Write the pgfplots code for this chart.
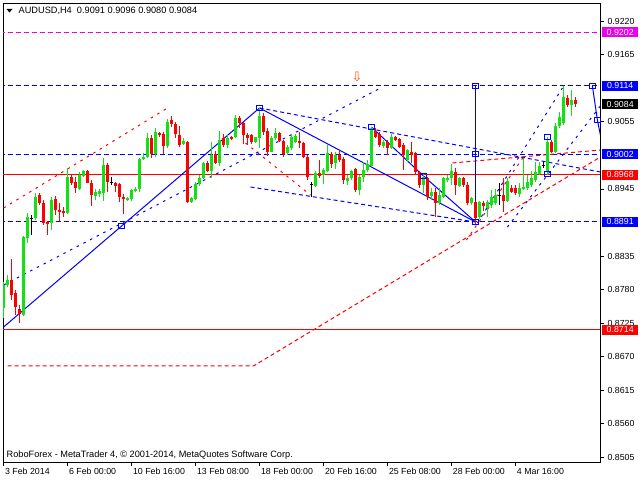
\documentclass[border=0pt]{standalone}
\usepackage{pgfplots}
\pgfplotsset{compat=1.18}
\usepackage{pgfplotstable}
\usepackage{fontspec}
\setmainfont{Liberation Sans}
\newfontfamily\djv{DejaVu Sans}
\definecolor{cgreen}{RGB}{20,225,20}
\definecolor{cred}{RGB}{255,0,0}
\definecolor{mtblue}{RGB}{0,0,255}
\definecolor{mtmag}{RGB}{235,0,235}
\definecolor{arrowc}{RGB}{255,80,30}

\pgfplotstableread{
i o h l c
0 0.8750 0.8792 0.8733 0.8788
1 0.8788 0.8804 0.8784 0.8796
5 0.8738 0.8868 0.8737 0.8866
6 0.8865 0.8906 0.8856 0.8899
8 0.8897 0.8938 0.8894 0.8932
12 0.8889 0.8932 0.8878 0.8927
16 0.8906 0.8979 0.8904 0.8965
19 0.8945 0.8973 0.8943 0.8968
20 0.8966 0.8976 0.8965 0.8974
23 0.8933 0.8945 0.8927 0.8940
24 0.8937 0.8945 0.8932 0.8942
25 0.8938 0.8996 0.8925 0.8984
31 0.8927 0.8932 0.8925 0.8930
32 0.8929 0.8945 0.8925 0.8943
33 0.8942 0.8948 0.8940 0.8945
34 0.8945 0.8996 0.8940 0.8994
35 0.8994 0.9004 0.8993 0.8997
36 0.8997 0.9037 0.8996 0.9029
38 0.9002 0.9045 0.8997 0.9038
41 0.9015 0.9060 0.9012 0.9055
45 0.9019 0.9029 0.9017 0.9024
47 0.8924 0.8932 0.8922 0.8930
48 0.8929 0.8956 0.8927 0.8953
49 0.8953 0.8968 0.8950 0.8963
50 0.8963 0.8989 0.8961 0.8988
52 0.8974 0.9022 0.8963 0.9001
54 0.8988 0.9040 0.8983 0.9025
56 0.9017 0.9034 0.9012 0.9029
58 0.9030 0.9066 0.9029 0.9061
63 0.9022 0.9031 0.9020 0.9030
64 0.9029 0.9078 0.9012 0.9065
67 0.9006 0.9032 0.9005 0.9029
68 0.9029 0.9045 0.9025 0.9037
71 0.9004 0.9017 0.9001 0.9014
72 0.9012 0.9035 0.9009 0.9030
73 0.9022 0.9035 0.9020 0.9032
78 0.8950 0.8974 0.8948 0.8971
80 0.8968 0.8979 0.8953 0.8976
81 0.8974 0.9019 0.8973 0.9004
83 0.8988 0.9006 0.8978 0.9001
86 0.8958 0.8968 0.8952 0.8963
87 0.8963 0.8976 0.8960 0.8974
89 0.8943 0.8968 0.8935 0.8965
90 0.8965 0.8989 0.8956 0.8976
91 0.8976 0.8993 0.8973 0.8986
92 0.8983 0.9047 0.8981 0.9045
95 0.9015 0.9025 0.9012 0.9022
97 0.9012 0.9035 0.9010 0.9030
101 0.8993 0.9010 0.8989 0.9009
105 0.8952 0.8970 0.8938 0.8965
107 0.8933 0.8947 0.8927 0.8940
109 0.8922 0.8947 0.8919 0.8935
110 0.8932 0.8965 0.8930 0.8963
111 0.8960 0.8968 0.8956 0.8963
112 0.8963 0.8986 0.8952 0.8974
114 0.8950 0.8965 0.8948 0.8963
117 0.8922 0.8932 0.8919 0.8930
119 0.8899 0.8925 0.8896 0.8924
121 0.8914 0.8927 0.8899 0.8924
122 0.8919 0.8943 0.8914 0.8932
123 0.8922 0.8945 0.8919 0.8935
126 0.8925 0.8963 0.8924 0.8958
129 0.8937 0.8955 0.8932 0.8947
130 0.8945 0.8996 0.8943 0.8948
131 0.8947 0.8968 0.8943 0.8956
132 0.8952 0.8974 0.8948 0.8963
133 0.8960 0.8989 0.8956 0.8973
134 0.8970 0.8989 0.8968 0.8983
136 0.8973 0.9030 0.8968 0.9022
138 0.9006 0.9053 0.9004 0.9048
139 0.9048 0.9071 0.9045 0.9063
140 0.9053 0.9114 0.9050 0.9096
142 0.9083 0.9107 0.9065 0.9091
}\upc

\pgfplotstableread{
i o h l c
2 0.8796 0.8830 0.8763 0.8771
3 0.8774 0.8779 0.8738 0.8751
4 0.8748 0.8755 0.8725 0.8740
9 0.8935 0.8938 0.8919 0.8922
10 0.8922 0.8927 0.8886 0.8889
11 0.8891 0.8892 0.8870 0.8889
13 0.8929 0.8933 0.8902 0.8911
14 0.8911 0.8922 0.8892 0.8907
15 0.8909 0.8915 0.8899 0.8906
17 0.8965 0.8970 0.8952 0.8955
18 0.8956 0.8965 0.8938 0.8947
21 0.8974 0.8976 0.8954 0.8955
22 0.8955 0.8960 0.8917 0.8935
26 0.8984 0.8988 0.8940 0.8956
28 0.8955 0.8956 0.8940 0.8950
29 0.8953 0.8955 0.8924 0.8932
30 0.8932 0.8937 0.8904 0.8929
37 0.9029 0.9034 0.8996 0.9002
39 0.9037 0.9038 0.9030 0.9034
40 0.9035 0.9038 0.9002 0.9015
42 0.9058 0.9065 0.9047 0.9052
43 0.9052 0.9055 0.9029 0.9035
44 0.9034 0.9048 0.9014 0.9017
46 0.9022 0.9024 0.8922 0.8924
51 0.8988 0.8991 0.8973 0.8974
53 0.9002 0.9007 0.8986 0.8988
55 0.9029 0.9035 0.9014 0.9017
57 0.9030 0.9032 0.9025 0.9027
59 0.9061 0.9065 0.9045 0.9053
60 0.9053 0.9055 0.9019 0.9034
61 0.9034 0.9037 0.9017 0.9029
62 0.9034 0.9035 0.9019 0.9022
65 0.9065 0.9070 0.9034 0.9038
66 0.9040 0.9045 0.8999 0.9006
69 0.9037 0.9038 0.9022 0.9024
70 0.9024 0.9025 0.8997 0.9002
74 0.9024 0.9038 0.9012 0.9020
75 0.9020 0.9022 0.8996 0.8997
76 0.8997 0.9001 0.8960 0.8965
79 0.8971 0.8993 0.8963 0.8966
82 0.9002 0.9006 0.8979 0.8986
84 0.9001 0.9007 0.8989 0.8993
85 0.8994 0.8997 0.8953 0.8960
88 0.8978 0.8979 0.8940 0.8943
93 0.9040 0.9045 0.9029 0.9030
94 0.9035 0.9038 0.9014 0.9017
96 0.9022 0.9025 0.9001 0.9012
98 0.9030 0.9032 0.9024 0.9025
99 0.9027 0.9029 0.9012 0.9014
100 0.9017 0.9020 0.8976 0.9001
102 0.9006 0.9022 0.8988 0.9001
103 0.9004 0.9006 0.8968 0.8973
104 0.8973 0.8974 0.8947 0.8952
106 0.8963 0.8964 0.8927 0.8932
108 0.8940 0.8947 0.8899 0.8922
113 0.8973 0.8979 0.8935 0.8952
115 0.8963 0.8965 0.8948 0.8952
116 0.8952 0.8956 0.8919 0.8922
118 0.8924 0.8925 0.8888 0.8897
120 0.8922 0.8925 0.8909 0.8917
125 0.8935 0.8963 0.8907 0.8925
127 0.8947 0.8952 0.8938 0.8940
128 0.8947 0.8952 0.8935 0.8938
137 0.9022 0.9025 0.9004 0.9006
141 0.9094 0.9099 0.9080 0.9083
143 0.9091 0.9096 0.9080 0.9084
}\downc

\pgfplotstableread{
i o h l c
7 0.8897 0.8902 0.8870 0.8898
27 0.8956 0.8965 0.8952 0.8957
77 0.8953 0.8956 0.8932 0.8954
124 0.8935 0.8955 0.8919 0.8936
135 0.8984 0.8989 0.8979 0.8985
}\dojic

\pgfplotsset{
  wick/.style={draw=none, mark=none, forget plot,
    error bars/.cd, y dir=both, y explicit, error mark=none,
    error bar style={draw=#1, solid, line width=1pt}},
  body/.style={draw=none, mark=none, forget plot,
    error bars/.cd, y dir=both, y explicit, error mark=none,
    error bar style={draw=#1, solid, line width=3pt}},
  lvl/.style={draw=#1, line width=1.1pt, dash pattern=on 5pt off 3pt, forget plot},
  sparse/.style={draw=#1, line width=1pt, dash pattern=on 2.5pt off 5pt, forget plot},
  dsh/.style={draw=#1, line width=1pt, dash pattern=on 4pt off 3pt, forget plot},
  sol/.style={draw=#1, line width=1pt, solid, forget plot},
  hsol/.style={draw=#1, line width=1.1pt, solid, forget plot},
}

\begin{document}
\begin{tikzpicture}
\useasboundingbox (0,0) rectangle (640pt,480pt);
\begin{axis}[
  at={(3pt,18pt)}, anchor=south west,
  scale only axis, width=597pt, height=459pt,
  xmin=-0.15, xmax=149.15, ymin=0.84972, ymax=0.92500,
  axis line style={black, line width=0.8pt},
  xtick={0,16,32,48,64,80,96,112,128},
  xticklabels={3 Feb 2014, 6 Feb 00:00, 10 Feb 16:00, 13 Feb 08:00, 18 Feb 00:00, 20 Feb 16:00, 25 Feb 08:00, 28 Feb 00:00, 4 Mar 16:00},
  ytick={0.8505,0.8560,0.8615,0.8670,0.8725,0.8780,0.8835,0.8945,0.9055,0.9165,0.9220},
  yticklabels={0.8505,0.8560,0.8615,0.8670,0.8725,0.8780,0.8835,0.8945,0.9055,0.9165,0.9220},
  scaled y ticks=false,
  xtick pos=bottom, ytick pos=right, yticklabel pos=right,
  tick align=outside, major tick length=4pt,
  tick style={black, line width=0.8pt},
  ticklabel style={font=\fontsize{8.8}{10}\selectfont, text=black},
  xticklabel style={anchor=north west, xshift=-2pt, yshift=1pt},
  yticklabel style={anchor=west, xshift=0pt},
]
% horizontal levels
\addplot[lvl=mtmag] coordinates {(-1,0.9202) (151,0.9202)};
\addplot[lvl=mtblue] coordinates {(-1,0.9114) (151,0.9114)};
\addplot[lvl=mtblue] coordinates {(-1,0.9002) (151,0.9002)};
\addplot[lvl=mtblue] coordinates {(-1,0.8891) (151,0.8891)};
\addplot[hsol=cred] coordinates {(-1,0.8968) (151,0.8968)};
\addplot[hsol=cred] coordinates {(-1,0.8714) (151,0.8714)};
% red channel lines
\addplot[sparse=cred] coordinates {(0,0.89138) (41,0.90778)};
\addplot[sparse=cred] coordinates {(60.5,0.90204) (76.75,0.89351)};
\addplot[dsh=cred] coordinates {(1,0.86547) (62.5,0.86547) (149.25,0.89974)};
\addplot[sparse=cred] coordinates {(115.75,0.88613) (130,0.89974)};
\addplot[dsh=cred] coordinates {(112.25,0.89876) (149.25,0.90089)};
% blue dashed lines
\addplot[dsh=mtblue] coordinates {(64,0.90778) (149.25,0.89728)};
\addplot[sparse=mtblue] coordinates {(0,0.87875) (94.75,0.91122)};
\addplot[dsh=mtblue] coordinates {(61.75,0.89482) (118,0.88908)};
\addplot[sparse=mtblue] coordinates {(118.5,0.88892) (139.75,0.91106)};
\addplot[sparse=mtblue] coordinates {(126,0.88826) (149.25,0.90811)};
% blue solid lines
\addplot[sol=mtblue] coordinates {(0,0.87186) (64,0.90778)};
\addplot[sol=mtblue] coordinates {(64,0.90778) (118,0.8891)};
\addplot[sol=mtblue] coordinates {(92,0.90466) (105,0.89663) (118,0.8891)};
\addplot[hsol=mtblue] coordinates {(118,0.9114) (118,0.8891)};
\addplot[sol=mtblue] coordinates {(147.25,0.9114) (148.5,0.90581) (149.25,0.90335)};
% squares
\addplot[only marks, mark=square, mark size=2.6pt, mark options={draw=mtblue, line width=1pt, solid}, forget plot]
  coordinates {(29.5,0.88843) (64,0.90778) (92,0.90466) (105,0.89663) (118,0.8891) (118,0.9114) (118,0.9002) (136,0.90302) (136,0.89696) (147.25,0.9114) (148.5,0.90581)};
% candles
\addplot[wick=cgreen] table[x=i, y expr={(\thisrow{h}+\thisrow{l})/2}, y error expr={(\thisrow{h}-\thisrow{l})/2}] {\upc};
\addplot[body=cgreen] table[x=i, y expr={(\thisrow{o}+\thisrow{c})/2}, y error expr={abs(\thisrow{c}-\thisrow{o})/2}] {\upc};
\addplot[wick=cred] table[x=i, y expr={(\thisrow{h}+\thisrow{l})/2}, y error expr={(\thisrow{h}-\thisrow{l})/2}] {\downc};
\addplot[body=cred] table[x=i, y expr={(\thisrow{o}+\thisrow{c})/2}, y error expr={abs(\thisrow{c}-\thisrow{o})/2}] {\downc};
\addplot[wick=black] table[x=i, y expr={(\thisrow{h}+\thisrow{l})/2}, y error expr={(\thisrow{h}-\thisrow{l})/2}] {\dojic};
\addplot[body=black] table[x=i, y expr={(\thisrow{o}+\thisrow{c})/2}, y error expr={abs(\thisrow{c}-\thisrow{o})/2}] {\dojic};
% anchors for labels
\coordinate (b9202) at (axis cs:149.15,0.9202);
\coordinate (b9114) at (axis cs:149.15,0.9114);
\coordinate (b9084) at (axis cs:149.15,0.9084);
\coordinate (b9002) at (axis cs:149.15,0.9002);
\coordinate (b8968) at (axis cs:149.15,0.8968);
\coordinate (b8891) at (axis cs:149.15,0.8891);
\coordinate (b8714) at (axis cs:149.15,0.8714);
\coordinate (arr) at (axis cs:88.4,0.91286);
\end{axis}
\tikzset{pl/.style={anchor=west, inner sep=0pt, minimum width=36pt, minimum height=10pt, text=white, font=\fontsize{8.8}{10}\selectfont, xshift=2pt}}
\node[pl, fill=mtmag] at (b9202) {0.9202};
\node[pl, fill=mtblue] at (b9114) {0.9114};
\node[pl, fill=black] at (b9084) {0.9084};
\node[pl, fill=mtblue] at (b9002) {0.9002};
\node[pl, fill=cred] at (b8968) {0.8968};
\node[pl, fill=mtblue] at (b8891) {0.8891};
\node[pl, fill=cred] at (b8714) {0.8714};
\node[text=arrowc, inner sep=0pt, font=\djv\fontsize{13}{14}\selectfont] at (arr) {⇩};
% header and footer
\fill[black] (6.5pt,471pt) -- (12.5pt,471pt) -- (9.5pt,467.5pt) -- cycle;
\node[anchor=west, inner sep=0pt, font=\fontsize{9.2}{11}\selectfont] at (18.5pt,469pt) {AUDUSD,H4\ \ 0.9091 0.9096 0.9080 0.9084};
\node[anchor=west, inner sep=0pt, font=\fontsize{9.2}{11}\selectfont] at (6.5pt,25pt) {RoboForex - MetaTrader 4, © 2001-2014, MetaQuotes Software Corp.};
\end{tikzpicture}
\end{document}
